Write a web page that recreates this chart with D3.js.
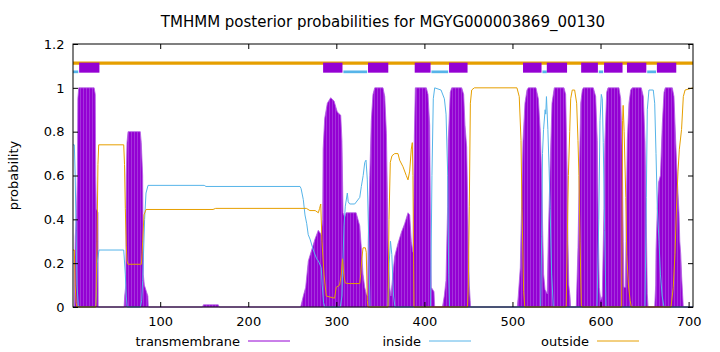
<!DOCTYPE html>
<html>
<head>
<meta charset="utf-8">
<script src="https://cdn.jsdelivr.net/npm/d3@7"></script>
<style>
  body { margin: 0; background: #fff; }
  svg { display: block; }
  text { font-family: "DejaVu Sans", sans-serif; font-size: 13px; fill: #000; }
</style>
</head>
<body>
<div class="chart"></div>
<script>
const seqLength = 705;
const title = "TMHMM posterior probabilities for MGYG000003869_00130";
const xTicks = [100, 200, 300, 400, 500, 600, 700];
const yTicks = [0, 0.2, 0.4, 0.6, 0.8, 1, 1.2];
const seriesNames = ["transmembrane", "inside", "outside"];
const seriesColors = ["#9400d3", "#56b4e9", "#e69f00"];

// predicted topology (residue ranges)
const tmSegments = [[8, 31], [285, 307], [336, 359], [389, 407], [428, 449], [512, 533],
  [539, 562], [578, 597], [604, 625], [630, 652], [664, 686]];
const insideSegments = [[1, 7], [308, 335], [408, 427], [534, 539], [598, 603], [653, 663]];

// posterior probabilities, [residue, probability]
const tmProb = [
  [1, 0], [2.5, 0], [3, 0.15], [3.6, 0.32], [5, 0.43], [6, 0.6], [6.5, 0.95], [7.5, 1], [25, 1], [26.3, 0.97],
  [26.8, 0.6], [27.5, 0.45], [29.4, 0.43], [29.6, 0],
  [59, 0], [59.7, 0.05], [61, 0.1], [61.5, 0.6], [62.3, 0.75], [63.5, 0.8], [77.4, 0.8], [78.5, 0.75],
  [80.1, 0.6], [80.8, 0.15], [82, 0.1], [86, 0.05], [86.5, 0],
  [148, 0], [149, 0.01], [166, 0.01], [167, 0],
  [259.5, 0], [262.5, 0.05], [265.2, 0.09], [268.2, 0.21], [272, 0.26], [275.8, 0.31], [279.5, 0.35],
  [282.9, 0.33], [284.5, 0.4], [285, 0.72], [286.8, 0.86], [289.8, 0.93], [293.6, 0.955], [297.4, 0.94],
  [301.1, 0.89], [305, 0.875], [306.4, 0.76], [307.6, 0.43], [309.5, 0.41], [311, 0.43], [322.5, 0.43],
  [326.6, 0.37], [328.4, 0.27], [330.3, 0.15], [332.2, 0.09], [334, 0.06], [335.5, 0.05],
  [336.2, 0.3], [338, 0.6], [339.7, 0.85], [341.6, 0.97], [343.6, 1], [353, 1], [355, 0.96], [356.9, 0.79],
  [358, 0.5], [358.7, 0.27], [360.6, 0.09], [362, 0.05], [364.3, 0.15], [366.2, 0.23], [370, 0.29],
  [373.8, 0.34], [377.6, 0.38], [381.4, 0.43], [383.3, 0.42], [385.1, 0.3], [387, 0.25], [388, 0.5],
  [388.6, 0.78], [389.7, 1], [402.2, 1], [404.1, 0.97], [406, 0.83], [407.1, 0.3], [407.8, 0.09],
  [410.9, 0.07], [411.7, 0],
  [420.5, 0], [422.6, 0.05], [424.5, 0.12], [426.4, 0.46], [427.1, 0.76], [429.4, 0.98], [431, 1],
  [442.4, 1], [444.6, 0.97], [446.1, 0.83], [448, 0.73], [449.2, 0.46], [449.9, 0.3], [451, 0.1],
  [452, 0.03], [452.5, 0],
  [505.5, 0], [506.6, 0.05], [508.9, 0.18], [510.5, 0.49], [512, 0.76], [514.2, 0.93], [516.5, 0.99],
  [518, 1], [526.7, 1], [529.4, 0.95], [531.6, 0.8], [533.2, 0.59], [534.3, 0.35], [535.4, 0.15],
  [537, 0.08], [539.5, 0.06], [540.6, 0.3], [542.9, 0.66], [544.9, 0.93], [547.5, 1], [558.5, 1],
  [560.4, 0.97], [562.2, 0.6], [563, 0.3], [564, 0.1], [565.3, 0.05], [566, 0],
  [572.5, 0], [572.9, 0.06], [574.4, 0.27], [575.9, 0.6], [577.5, 0.93], [579.3, 0.99], [580.5, 1],
  [591.8, 1], [594.5, 0.96], [596.3, 0.76], [597.4, 0.37], [598.6, 0.09], [600.2, 0.03], [602, 0.05],
  [603.9, 0.45], [605, 0.76], [607, 0.98], [608.5, 1], [620.9, 1], [622.9, 0.95], [624.7, 0.69],
  [625.8, 0.3], [626.6, 0.09], [628.3, 0.09], [628.9, 0.3], [630.4, 0.76], [632.3, 0.93], [634.2, 0.99],
  [636, 1], [646.3, 1], [648.6, 0.96], [650.5, 0.76], [652, 0.38], [653.1, 0.06], [654, 0],
  [661.5, 0], [662.6, 0.1], [663, 0.26], [664.5, 0.45], [666, 0.57], [668, 0.6], [670.1, 0.83],
  [672.1, 0.98], [673.5, 1], [681.5, 1], [683.4, 0.96], [685.3, 0.76], [687.2, 0.58], [689.1, 0.43],
  [690, 0.3], [691.1, 0.24], [692.1, 0.14], [693.3, 0.05], [694, 0],
  [705, 0]
];

const insideProb = [
  [1, 0.74], [2.5, 0.74], [3.5, 0.6], [4.5, 0.35], [5.5, 0.1], [7, 0.01], [8, 0], [26.5, 0], [27.5, 0.05],
  [28.5, 0.2], [30.5, 0.26], [58.6, 0.26], [60.4, 0.15], [61.5, 0.05], [62.5, 0], [77.5, 0], [79, 0.03],
  [80.1, 0.12], [82.3, 0.4], [83.9, 0.52], [86.2, 0.555], [150, 0.555], [152, 0.55], [258.8, 0.55],
  [260, 0.54], [262.5, 0.49], [264.4, 0.42], [266.4, 0.38], [268.1, 0.33], [270.1, 0.31], [273.9, 0.26],
  [277.6, 0.22], [279.6, 0.21], [282.9, 0.18], [284, 0.1], [285.5, 0.02], [287, 0], [304.5, 0],
  [306.4, 0.05], [307.5, 0.2], [308.7, 0.37], [310.2, 0.46], [312.5, 0.52], [313.5, 0.48], [315.2, 0.47],
  [320.9, 0.47], [326.6, 0.5], [328.4, 0.55], [330.5, 0.6], [332.3, 0.66], [333.7, 0.67], [335.2, 0.58],
  [336.8, 0.3], [338.2, 0], [358.5, 0], [360, 0.2], [361.5, 0.3], [363, 0.24], [365, 0.05], [366.6, 0],
  [407, 0], [408.6, 0.6], [410.1, 0.95], [411.7, 1], [418.9, 0.99], [422.7, 0.95], [424.6, 0.88],
  [426.5, 0.6], [427.6, 0.15], [428.5, 0], [532, 0], [533.2, 0.32], [534.1, 0.7], [535.3, 0.81],
  [537.1, 0.9], [537.8, 0.88], [538.6, 0.96], [540.2, 0.81], [541.6, 0.63], [542.8, 0.45], [544.5, 0.15],
  [546.4, 0], [596, 0], [598, 0.4], [599.4, 0.85], [600.9, 0.97], [602, 0.95], [603.1, 0.75],
  [604.7, 0.35], [606.2, 0], [650.5, 0], [652, 0.5], [653.1, 0.9], [655, 0.99], [659.9, 0.99],
  [661.5, 0.93], [663, 0.7], [664.5, 0.45], [666.4, 0.3], [668, 0.15], [670, 0.05], [672, 0], [705, 0]
];

const outsideProb = [
  [1, 0.26], [2.5, 0.26], [3.5, 0.1], [4.5, 0.02], [5.5, 0], [27, 0], [28.3, 0.3], [29.3, 0.65],
  [30.2, 0.74], [58.6, 0.74], [59.5, 0.65], [60.4, 0.45], [61.5, 0.28], [62.3, 0.21], [63.4, 0.195],
  [78.6, 0.195], [79.5, 0.25], [80.1, 0.3], [81.6, 0.42], [83.9, 0.445], [160, 0.445], [163, 0.45],
  [266, 0.45], [270, 0.44], [276, 0.44], [279.6, 0.43], [281, 0.45], [282.3, 0.47], [283.7, 0.3],
  [286, 0.15], [288.6, 0.05], [298, 0.04], [299.9, 0.09], [303.8, 0.1], [305.6, 0.15], [307, 0.22],
  [308.5, 0.15], [310, 0.11], [313.3, 0.107], [326.6, 0.107], [327.7, 0.15], [329, 0.22], [330.3, 0.27],
  [333, 0.27], [334, 0.25], [335.2, 0.03], [336, 0], [358.7, 0], [359.8, 0.4], [361.3, 0.66],
  [363.2, 0.69], [366.3, 0.7], [370, 0.7], [371.9, 0.67], [375.7, 0.64], [379.4, 0.6], [381.4, 0.58],
  [383.3, 0.62], [385.1, 0.72], [386.3, 0.75], [387, 0.6], [388.2, 0], [449, 0], [449.9, 0.1],
  [451, 0.46], [452.2, 0.93], [453.7, 0.99], [456.7, 1], [505.1, 1], [507.7, 0.96], [509.7, 0.76],
  [510.8, 0.45], [512.7, 0.07], [514, 0], [561, 0], [562.2, 0.3], [563.5, 0.6], [565, 0.8], [566.1, 0.95],
  [567.9, 0.99], [570.6, 0.99], [572.9, 0.93], [574.4, 0.76], [575.5, 0.6], [576.7, 0.3], [578.2, 0.01],
  [579, 0], [624, 0], [625, 0.85], [625.7, 0.92], [626.8, 0.8], [628.7, 0.5], [629.8, 0.24],
  [631.7, 0.1], [633.6, 0.03], [635, 0], [680, 0], [682.6, 0.09], [684.5, 0.24], [686.4, 0.47],
  [688, 0.62], [689.5, 0.72], [692, 0.81], [694, 0.96], [696, 0.99], [705, 1]
];

const width = 720, height = 352;
const margin = { top: 44, right: 27, bottom: 45, left: 73 };

const svg = d3.select(".chart").append("svg")
  .attr("width", width).attr("height", height);

const x = d3.scaleLinear().domain([1, seqLength]).range([margin.left, width - margin.right]);
const y = d3.scaleLinear().domain([0, 1.2]).range([height - margin.bottom, margin.top]);

// stripe pattern to mimic gnuplot impulses
const defs = svg.append("defs");
const pat = defs.append("pattern").attr("id", "imp")
  .attr("patternUnits", "userSpaceOnUse").attr("width", 3).attr("height", 10);
pat.append("rect").attr("width", 3).attr("height", 10).attr("fill", "#aa3edf");
pat.append("rect").attr("width", 2.2).attr("height", 10).attr("fill", "#9400d3");

// transmembrane probability
svg.append("path")
  .datum(tmProb)
  .attr("fill", "url(#imp)")
  .attr("stroke", "#b35de3")
  .attr("stroke-width", 0.8)
  .attr("d", d3.area().x(d => x(d[0])).y0(y(0)).y1(d => y(d[1])));

const line = d3.line().x(d => x(d[0])).y(d => y(d[1]));
svg.append("path").datum(insideProb)
  .attr("fill", "none").attr("stroke", seriesColors[1]).attr("stroke-width", 1)
  .attr("d", line);
svg.append("path").datum(outsideProb)
  .attr("fill", "none").attr("stroke", seriesColors[2]).attr("stroke-width", 1)
  .attr("d", line);

// topology bar
svg.append("line")
  .attr("x1", x(1)).attr("x2", x(seqLength))
  .attr("y1", y(1.113)).attr("y2", y(1.113))
  .attr("stroke", seriesColors[2]).attr("stroke-width", 3.3);
svg.selectAll(".ins").data(insideSegments).enter().append("line")
  .attr("x1", d => x(d[0])).attr("x2", d => x(d[1]))
  .attr("y1", y(1.073)).attr("y2", y(1.073))
  .attr("stroke", seriesColors[1]).attr("stroke-width", 2.7);
svg.selectAll(".tm").data(tmSegments).enter().append("rect")
  .attr("x", d => x(d[0])).attr("width", d => x(d[1]) - x(d[0]))
  .attr("y", y(1.092) - 5).attr("height", 10)
  .attr("fill", seriesColors[0]);

// axes
const fmt = d => String(d);
svg.append("g")
  .attr("transform", "translate(0," + y(0) + ")")
  .call(d3.axisBottom(x).tickValues(xTicks).tickSize(-5).tickPadding(10).tickFormat(fmt));
svg.append("g")
  .attr("transform", "translate(0," + y(1.2) + ")")
  .call(d3.axisTop(x).tickValues(xTicks).tickSize(-5).tickFormat(""));
svg.append("g")
  .attr("transform", "translate(" + x(1) + ",0)")
  .call(d3.axisLeft(y).tickValues(yTicks).tickSize(-5).tickPadding(8.5).tickFormat(fmt));
svg.append("g")
  .attr("transform", "translate(" + x(seqLength) + ",0)")
  .call(d3.axisRight(y).tickValues(yTicks).tickSize(-5).tickFormat(""));
svg.selectAll(".domain").remove();
svg.selectAll(".tick text").attr("font-family", null).attr("font-size", null);

svg.append("rect")
  .attr("x", x(1)).attr("y", y(1.2))
  .attr("width", x(seqLength) - x(1)).attr("height", y(0) - y(1.2))
  .attr("fill", "none").attr("stroke", "#000").attr("stroke-width", 1);

// title and axis label
svg.append("text")
  .attr("x", (x(1) + x(seqLength)) / 2).attr("y", 27)
  .attr("text-anchor", "middle")
  .style("font-size", "15px")
  .text(title);
svg.append("text")
  .attr("transform", "translate(18," + (y(0) + y(1.2)) / 2 + ") rotate(-90)")
  .attr("text-anchor", "middle")
  .text("probability");

// legend
const legendX = [240, 421, 589];
const legend = svg.selectAll(".leg").data(seriesNames).enter().append("g")
  .attr("transform", (d, i) => "translate(" + legendX[i] + ",341)");
legend.append("text")
  .attr("text-anchor", "end").attr("dy", "0.35em")
  .text(d => d);
legend.append("line")
  .attr("x1", 8).attr("x2", 50).attr("y1", 0).attr("y2", 0)
  .attr("stroke", (d, i) => seriesColors[i]).attr("stroke-width", 1);
</script>
</body>
</html>
